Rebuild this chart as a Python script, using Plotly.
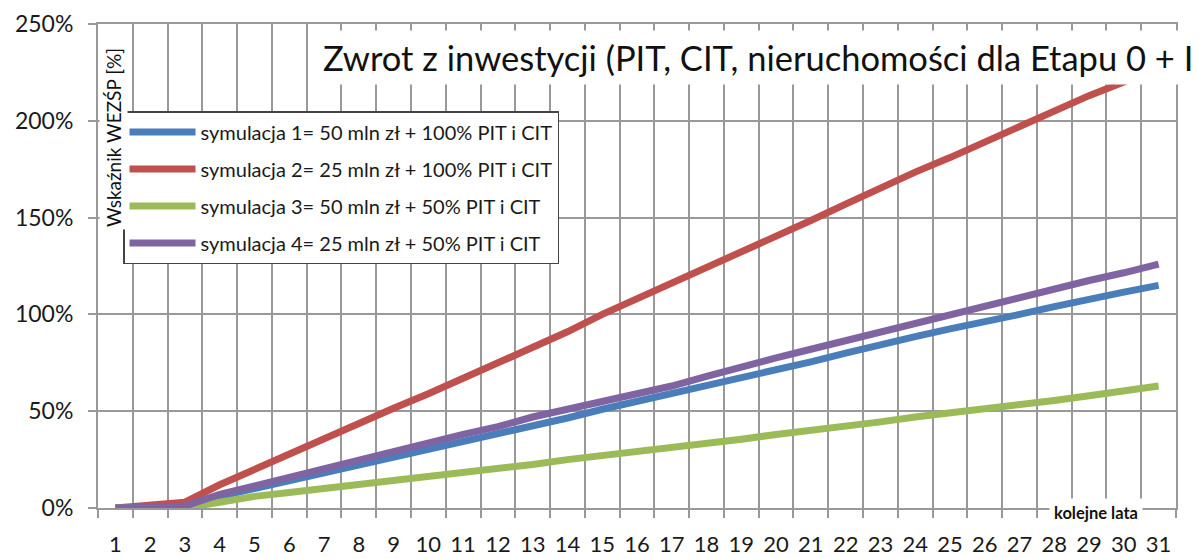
import plotly.graph_objects as go

years = [str(i) for i in range(1, 32)]

sim1 = [0, 0.5, 1, 6, 10, 14, 18, 22, 26, 30, 34, 38, 42.5, 46.5, 51, 55, 59, 63, 67, 71,
        75.5, 80, 84.5, 88.5, 92.5, 96, 100, 104, 108, 111.5, 115]
sim2 = [0, 1.5, 3, 12, 20, 28, 36, 44, 51.5, 59, 67, 75, 83, 91, 100, 108, 116, 124, 132, 140,
        148.5, 157, 165.5, 173.5, 181, 189, 197, 205, 213, 220, 228]
sim3 = [0, 0, 0, 3, 6, 8, 10, 12, 14, 16, 18, 20.5, 22.5, 25, 27, 29, 31.5, 33.5, 35.5, 38,
        40, 42.5, 44.5, 47, 49, 51, 53, 55.5, 58, 60.5, 63]
sim4 = [0, 0.5, 1, 7, 11.5, 15.5, 20, 24.5, 29, 33.5, 38, 42, 47, 51, 55, 59, 63, 68, 73, 77.5,
        82, 86.5, 91, 95.5, 100, 104, 109, 113.5, 117.5, 121.5, 126]

names = [
    "symulacja 1= 50 mln zł + 100% PIT i CIT",
    "symulacja 2= 25 mln zł + 100% PIT i CIT",
    "symulacja 3= 50 mln zł + 50% PIT i CIT",
    "symulacja 4= 25 mln zł + 50% PIT i CIT",
]
colors = ["#4A7EBB", "#C0504D", "#9BBB59", "#8064A2"]
series = [sim1, sim2, sim3, sim4]

title_text = "Zwrot z inwestycji (PIT, CIT, nieruchomości dla Etapu 0 + I"
ytitle_text = "Wskaźnik WEZŚP [%]"
xtitle_text = "kolejne lata"

FONT = "Lato"

fig = go.Figure()
for i, (nm, col, vals) in enumerate(zip(names, colors, series)):
    fig.add_trace(go.Scatter(
        x=years, y=vals, mode="lines", name=nm,
        line=dict(color=col, width=7, shape="linear"),
        legendgroup=f"g{i}",
    ))

grid = "#999999"
fig.update_layout(
    width=1199, height=559,
    margin=dict(l=98, r=23, t=24, b=51, autoexpand=False),
    paper_bgcolor="white", plot_bgcolor="white",
    font=dict(family=FONT, color="#1a1a1a"),
    showlegend=True,
    legend=dict(
        x=0.0232, y=0.82, xanchor="left", yanchor="top",
        bgcolor="white", bordercolor="#444444", borderwidth=1.5,
        font=dict(family=FONT, size=20, color="#1a1a1a"),
        tracegroupgap=8, itemwidth=66,
    ),
    xaxis=dict(
        type="category", range=[-0.5, 30.5], automargin=False,
        tickson="boundaries", showgrid=True, gridcolor=grid, gridwidth=2,
        ticks="outside", ticklen=8, tickcolor=grid, tickwidth=2,
        showline=True, linecolor=grid, linewidth=2, mirror=True,
        tickfont=dict(family=FONT, size=22, color="#1a1a1a"),
        tickangle=0, ticklabelstandoff=16,
    ),
    yaxis=dict(
        range=[0, 250], dtick=50, ticksuffix="%", automargin=False,
        showgrid=True, gridcolor=grid, gridwidth=2, zeroline=False,
        ticks="outside", ticklen=8, tickcolor=grid, tickwidth=2,
        showline=True, linecolor=grid, linewidth=2, mirror=True,
        tickfont=dict(family=FONT, size=23, color="#1a1a1a"),
        ticklabelstandoff=10,
    ),
)

fig.add_annotation(
    text=title_text, xref="paper", yref="paper",
    x=(316 - 98) / 1078, y=(508 - 58) / 484, xanchor="left", yanchor="middle",
    showarrow=False, bgcolor="white", borderpad=6,
    font=dict(family=FONT, size=34.5, color="#111111"),
)
fig.add_annotation(
    text=ytitle_text, xref="paper", yref="paper",
    x=(113 - 98) / 1078, y=(508 - 138) / 484, xanchor="center", yanchor="middle",
    textangle=-90, showarrow=False, bgcolor="white", borderpad=2,
    font=dict(family=FONT, size=19, color="#111111"),
)
fig.add_annotation(
    text="<b>" + xtitle_text + "</b>", xref="paper", yref="paper",
    x=(1096 - 98) / 1078, y=(508 - 513) / 484, xanchor="center", yanchor="middle",
    showarrow=False, bgcolor="white", borderpad=4,
    font=dict(family=FONT, size=16.5, color="#111111"),
)

fig.write_html("out.html", config={"displayModeBar": False},
               post_script="document.body.style.margin='0';")
